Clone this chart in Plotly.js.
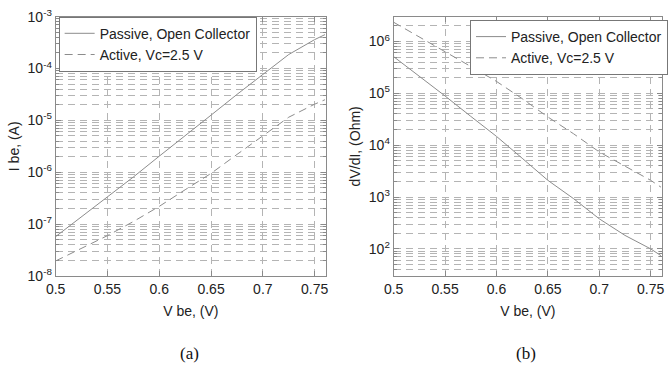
<!DOCTYPE html>
<html>
<head>
<meta charset="utf-8">
<script src="https://cdn.plot.ly/plotly-3.0.1.min.js"></script>
<style>html,body{margin:0;padding:0;background:#fff;}#chart{width:668px;height:369px;}</style>
</head>
<body>
<div id="chart"></div>
<script>
// ---- data ----
const vbe = [0.5, 0.525, 0.55, 0.575, 0.6, 0.625, 0.65, 0.675, 0.7, 0.725, 0.75, 0.76];
const ibePassive = [5.75e-8, 1.38e-7, 3.31e-7, 8.1e-7, 2.04e-6, 5.0e-6, 1.26e-5, 3.16e-5, 7.8e-5, 1.86e-4, 3.6e-4, 4.5e-4];
const ibeActive  = [1.95e-8, 3.4e-8, 6.0e-8, 1.12e-7, 2.2e-7, 4.6e-7, 9.5e-7, 2.2e-6, 5.1e-6, 1.15e-5, 2.05e-5, 2.5e-5];
const rPassive = [5.1e5, 2.15e5, 8.9e4, 3.6e4, 1.48e4, 5.6e3, 2.1e3, 930, 380, 182, 100, 74];
const rActive  = [2.35e6, 1.23e6, 6.5e5, 3.3e5, 1.7e5, 7.9e4, 3.5e4, 1.66e4, 7.4e3, 4.0e3, 2.1e3, 1.55e3];

const xTickVals = [0.5, 0.55, 0.6, 0.65, 0.7, 0.75];
const xTickText = ['0.5', '0.55', '0.6', '0.65', '0.7', '0.75'];
const yLeftExp = [-8, -7, -6, -5, -4, -3];
const yRightExp = [2, 3, 4, 5, 6];
const mantissas = [2, 3, 4, 5, 6, 7, 8, 9];

const seriesNames = ['Passive, Open Collector', 'Active, Vc=2.5 V'];
const yTitles = ['I be, (A)', 'dV/dI, (Ohm)'];
const xTitle = 'V be, (V)';
const captions = ['(a)', '(b)'];

// ---- helpers ----
function minorVals(exps) {
  const out = [];
  const lo = exps[0] - 1, hi = exps[exps.length - 1] + 1;
  for (let e = lo; e <= hi; e++) mantissas.forEach(m => out.push(m * Math.pow(10, e)));
  return out;
}
const tickFont = {family: 'Liberation Sans, Arial, sans-serif', size: 14, color: '#222'};
const gridCol = '#b4b4b4';
const lineCol = '#8a8a8a';
const curveCol = '#8c8c8c';

function xAxis(domain, anchor) {
  return {
    domain: domain, anchor: anchor, range: [0.5, 0.761],
    tickvals: xTickVals, ticktext: xTickText, tickfont: tickFont,
    ticks: 'inside', ticklen: 5, tickcolor: lineCol,
    showline: true, linecolor: lineCol, linewidth: 1, mirror: 'allticks',
    showgrid: true, gridcolor: gridCol, griddash: '7px,5px', gridwidth: 1,
    zeroline: false,
    title: {text: xTitle, font: tickFont, standoff: 10}
  };
}
function yAxis(domain, anchor, exps, range, title) {
  return {
    domain: domain, anchor: anchor, type: 'log', range: range,
    tickvals: exps.map(e => Math.pow(10, e)),
    ticktext: exps.map(e => '10<sup>' + e + '</sup>'),
    tickfont: tickFont,
    ticks: 'inside', ticklen: 5, tickcolor: lineCol,
    showline: true, linecolor: lineCol, linewidth: 1, mirror: 'allticks',
    showgrid: true, gridcolor: gridCol, griddash: '7px,5px', gridwidth: 1,
    zeroline: false,
    minor: {tickvals: minorVals(exps), ticks: 'inside', ticklen: 3, tickcolor: lineCol,
            showgrid: true, gridcolor: gridCol, griddash: '7px,5px', gridwidth: 1},
    title: {text: title, font: tickFont, standoff: 4}
  };
}

const traces = [
  {x: vbe, y: ibePassive, xaxis: 'x', yaxis: 'y', mode: 'lines', name: seriesNames[0],
   line: {color: curveCol, width: 1}, legend: 'legend'},
  {x: vbe, y: ibeActive, xaxis: 'x', yaxis: 'y', mode: 'lines', name: seriesNames[1],
   line: {color: curveCol, width: 1, dash: '8px,5px'}, legend: 'legend'},
  {x: vbe, y: rPassive, xaxis: 'x2', yaxis: 'y2', mode: 'lines', name: seriesNames[0],
   line: {color: curveCol, width: 1}, legend: 'legend2'},
  {x: vbe, y: rActive, xaxis: 'x2', yaxis: 'y2', mode: 'lines', name: seriesNames[1],
   line: {color: curveCol, width: 1, dash: '8px,5px'}, legend: 'legend2'}
];

const yDom = [1 - 276 / 369, 1 - 16.6 / 369];
const legendFont = {family: 'Liberation Sans, Arial, sans-serif', size: 14, color: '#222'};
const captionFont = {family: 'Liberation Serif, Times New Roman, serif', size: 17, color: '#111'};
const layout = {
  width: 668, height: 369,
  margin: {l: 0, r: 0, t: 0, b: 0},
  paper_bgcolor: '#fff', plot_bgcolor: '#fff',
  showlegend: true,
  xaxis: xAxis([56 / 668, 328 / 668], 'y'),
  yaxis: yAxis(yDom, 'x', yLeftExp, [-8, -3], yTitles[0]),
  xaxis2: xAxis([396 / 668, 666 / 668], 'y2'),
  yaxis2: yAxis(yDom, 'x2', yRightExp, [1.477, 6.48], yTitles[1]),
  legend: {x: 59 / 668, y: 1 - 16.7 / 369, xanchor: 'left', yanchor: 'top',
           bgcolor: '#fff', bordercolor: '#777', borderwidth: 1, font: legendFont,
           itemwidth: 30, tracegroupgap: 0},
  legend2: {x: 473 / 668, y: 1 - 20 / 369, xanchor: 'left', yanchor: 'top',
           bgcolor: '#fff', bordercolor: '#777', borderwidth: 1, font: legendFont,
           itemwidth: 30, tracegroupgap: 0},
  annotations: [
    {text: captions[0], xref: 'paper', yref: 'paper', x: 191 / 668, y: 1 - 353 / 369,
     xanchor: 'center', yanchor: 'middle', showarrow: false, font: captionFont},
    {text: captions[1], xref: 'paper', yref: 'paper', x: 529 / 668, y: 1 - 353 / 369,
     xanchor: 'center', yanchor: 'middle', showarrow: false, font: captionFont}
  ]
};
Plotly.newPlot('chart', traces, layout, {staticPlot: true, displayModeBar: false});
</script>
</body>
</html>
